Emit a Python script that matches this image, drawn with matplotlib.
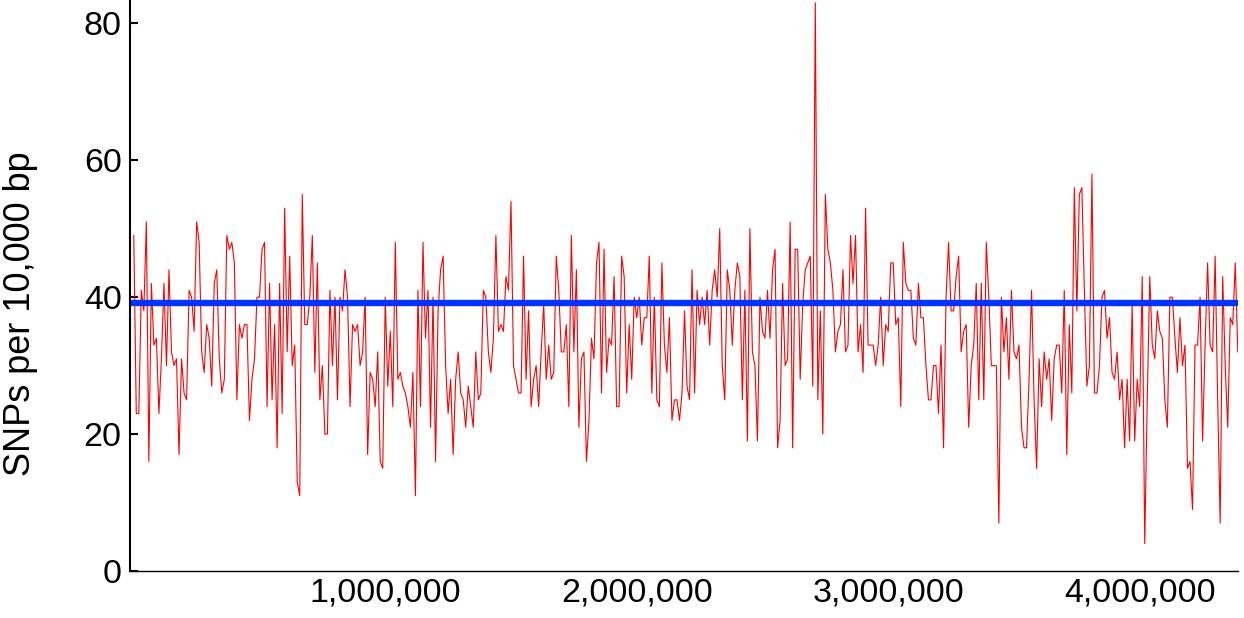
import numpy as np
import matplotlib
matplotlib.use('Agg')
import matplotlib.pyplot as plt
from matplotlib.ticker import FuncFormatter

plt.rcParams['font.family'] = ['Liberation Sans', 'DejaVu Sans']

# SNP counts per 10 kb window (left to right)
snps_a = [49, 23, 23, 41, 38, 51, 16, 42, 33, 34, 23, 31, 42, 30, 44, 32, 30, 31,
          17, 31, 26, 25, 41, 40, 35, 51, 48, 32, 29, 36, 34, 27, 42, 44, 31, 26,
          28, 49, 47, 48, 45, 25, 36, 34, 36, 36, 22, 28, 31, 40, 40, 47, 48, 24,
          42, 25, 36, 18, 42, 23, 53, 32, 46, 30, 33, 13, 11, 55, 36, 36, 40, 49]
snps_b = [29, 45, 25, 30, 20, 20, 41, 30, 40, 25, 40, 38, 44, 40, 24, 36, 35, 36,
          30, 32, 40, 17, 29, 28, 24, 32, 16, 15, 40, 27, 35, 24, 48, 28, 29, 27,
          26, 24,
          21, 29, 11, 41, 24, 48, 34, 41, 21, 40, 16, 38, 44, 46, 30, 23, 28, 17,
          28, 32, 26, 25, 21, 27, 24, 21, 32, 25, 26, 41, 40, 32, 29, 34, 49, 35,
          36, 35]
snps_c = [43, 41, 54, 30, 28, 26, 26, 46, 28, 38, 24, 28, 30, 24, 32, 39, 28, 33,
          28, 29, 46, 41, 32, 32, 36, 24, 49, 32, 44, 21, 31, 32, 16, 22, 34,
          31, 45, 48, 26, 47, 29, 34, 33, 43, 24, 24, 46, 43, 26, 36, 28, 40, 37,
          40, 33, 37, 37, 46, 26, 40, 25, 24, 45, 33, 29, 37, 22, 25, 25, 22, 26, 38]
snps_d = [27, 25, 44, 26, 41, 36, 40, 36, 41, 33, 41, 44, 40, 50, 30, 25, 44, 41,
          33, 41, 45, 43, 25, 41, 19, 50, 32, 30, 19, 40, 35, 34, 41, 34, 44, 47, 18,
          22, 42, 30, 31, 51, 18, 47, 47, 28, 39, 44, 45, 46, 27, 83, 25, 38, 20,
          55, 47, 45, 41, 32, 35, 36, 44, 32, 33, 49, 42, 49, 32, 36, 29, 53, 33]
snps_e = [33, 33, 30, 33, 40, 30, 36, 35, 45, 45, 36, 37, 24, 48, 42, 41, 41, 34,
          33, 42, 37, 37, 30, 25, 25, 30, 30, 23, 33, 18, 40, 48, 38, 38, 43, 46, 32, 35,
          36, 21, 30, 33, 42, 25, 42, 25, 48, 40, 30, 30, 30, 7, 40, 32, 37, 28,
          41, 32, 31, 33, 21, 18, 18, 28, 41, 25, 15, 31, 24, 32, 28, 31, 22, 31, 33]
snps_f = [33, 26, 41, 17, 36, 26, 56, 38, 55, 56, 41, 27, 30, 58, 26, 26, 30, 40,
          41, 34, 37, 29, 28, 32, 25, 28, 18, 28, 19, 39, 19, 28, 24, 43, 4, 25,
          43, 33, 31, 38, 35, 34, 25, 21, 40, 40, 34, 29, 37, 30, 33, 15, 16, 9,
          33, 33, 40, 19, 33, 45, 33, 32, 46, 25, 7, 43, 30, 21, 37, 36, 45, 32]

snps = np.array(snps_a + snps_b + snps_c + snps_d + snps_e + snps_f)
window = 10000
position = np.arange(len(snps)) * window
mean_snps = 39.1

fig = plt.figure(figsize=(12.44, 6.18), dpi=100)
ax = fig.add_axes([0.1045, 0.076, 0.8905, 0.924])

ax.plot(position, snps, color='#ff0000', linewidth=0.8)
ax.axhline(mean_snps, color='#0033ff', linewidth=4.6)

ax.set_xlim(position[0] - 15000, position[-1])
ax.set_ylim(0, 83.4)
ax.set_yticks([0, 20, 40, 60, 80])
ax.set_xticks([1000000, 2000000, 3000000, 4000000])
ax.xaxis.set_major_formatter(FuncFormatter(lambda v, p: f'{int(v):,}'))

ax.spines['top'].set_visible(False)
ax.spines['right'].set_visible(False)
ax.spines['left'].set_linewidth(1.5)
ax.spines['bottom'].set_linewidth(1.0)
ax.tick_params(axis='y', direction='in', length=6, width=1.5, labelsize=24.5, pad=6)
ax.tick_params(axis='x', length=0, labelsize=24.5, pad=5)

ax.set_ylabel('SNPs per 10,000 bp', fontsize=26)
ax.yaxis.set_label_coords(-0.083, 0.45)

fig.savefig('out.png', dpi=100)
